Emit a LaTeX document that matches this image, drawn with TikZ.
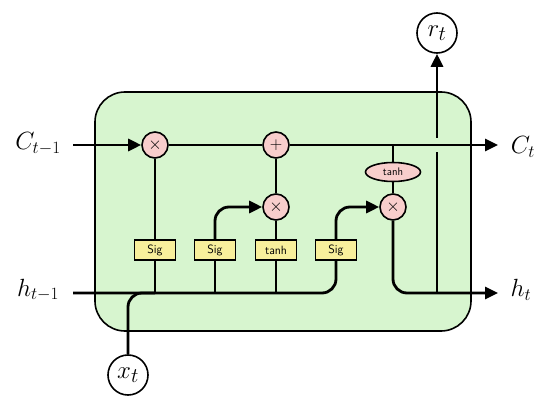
\documentclass[tikz,border=0pt]{standalone}
\usetikzlibrary{arrows.meta,shapes.geometric}
\definecolor{cellgreen}{HTML}{D7F5CF}
\definecolor{oppink}{HTML}{F8CECC}
\definecolor{gateyellow}{HTML}{F8EF9C}
\begin{document}
\begin{tikzpicture}[x=1pt,y=-1pt,
    op/.style={circle, draw, line width=1.6pt, fill=oppink, minimum size=26pt, inner sep=0pt, font=\fontsize{17}{17}\selectfont},
    gate/.style={draw, line width=1.6pt, fill=gateyellow, minimum width=41pt, minimum height=20pt, inner sep=0pt, font=\sffamily\fontsize{12}{12}\selectfont},
    io/.style={circle, draw, line width=1.6pt, fill=white, minimum size=40pt, inner sep=0pt, font=\fontsize{28}{28}\selectfont},
    lbl/.style={font=\fontsize{26}{26}\selectfont},
    wire/.style={line width=2.8pt},
    arr/.style={wire, -{Triangle[length=13pt,width=12pt]}}
  ]
  \useasboundingbox (0,0) rectangle (550,404);
  % cell body
  \draw[line width=1.6pt, fill=cellgreen, rounded corners=30pt] (95,92) rectangle (471,331);

  % operators and gates
  \node[op] (mulf) at (155,145) {$\times$};
  \node[op] (add)  at (276,145) {$+$};
  \node[op] (muli) at (276,207) {$\times$};
  \node[op] (mulo) at (393,207) {$\times$};
  \node[ellipse, draw, line width=1.6pt, fill=oppink, minimum width=55pt, minimum height=19pt, inner sep=0pt, font=\sffamily\fontsize{11}{11}\selectfont] (tanhc) at (393,172) {tanh};
  \node[gate] (sigf) at (155,250) {Sig};
  \node[gate] (sigi) at (215,250) {Sig};
  \node[gate] (tanhg) at (276,250) {tanh};
  \node[gate] (sigo) at (336,250) {Sig};
  \node[io] (rt) at (437,33) {$r_t$};
  \node[io] (xt) at (128,375) {$x_t$};

  % in/out labels
  \node[lbl] (cin) at (38,144) {$C_{t-1}$};
  \node[lbl] (hin) at (38,290) {$h_{t-1}$};
  \node[lbl] (cout) at (523,147) {$C_t$};
  \node[lbl] (hout) at (521,290) {$h_t$};
  \coordinate (cstart) at (73,145);
  \coordinate (cend) at (498,145);
  \coordinate (hstart) at (73,293);
  \coordinate (hend) at (498,293);
  \coordinate (hjoin) at (437,293);
  \coordinate (gaplo) at (437,152);
  \coordinate (gaphi) at (437,138);

  % output to r_t, passing under the cell state
  \draw[wire] (hjoin) -- (gaplo);
  \draw[arr] (gaphi) -- (rt);

  % cell state
  \draw[arr] (cstart) -- (mulf);
  \draw[wire] (mulf) -- (add);
  \draw[arr] (add) -- (cend);
  \draw[wire] (tanhc) -- (tanhc |- add);

  % hidden state and input
  \draw[wire, rounded corners=14pt] (hstart) -| (sigo);
  \draw[wire, rounded corners=14pt] (xt) |- (sigf |- hstart);
  \draw[wire] (sigf) -- (sigf |- hstart);
  \draw[wire] (sigi) -- (sigi |- hstart);
  \draw[wire] (tanhg) -- (tanhg |- hstart);

  % gates to operators
  \draw[wire] (sigf) -- (mulf);
  \draw[arr, rounded corners=14pt] (sigi) |- (muli);
  \draw[wire] (tanhg) -- (muli);
  \draw[wire] (muli) -- (add);
  \draw[arr, rounded corners=14pt] (sigo) |- (mulo);
  \draw[wire] (mulo) -- (tanhc);
  \draw[arr, rounded corners=14pt] (mulo) |- (hend);
\end{tikzpicture}
\end{document}
